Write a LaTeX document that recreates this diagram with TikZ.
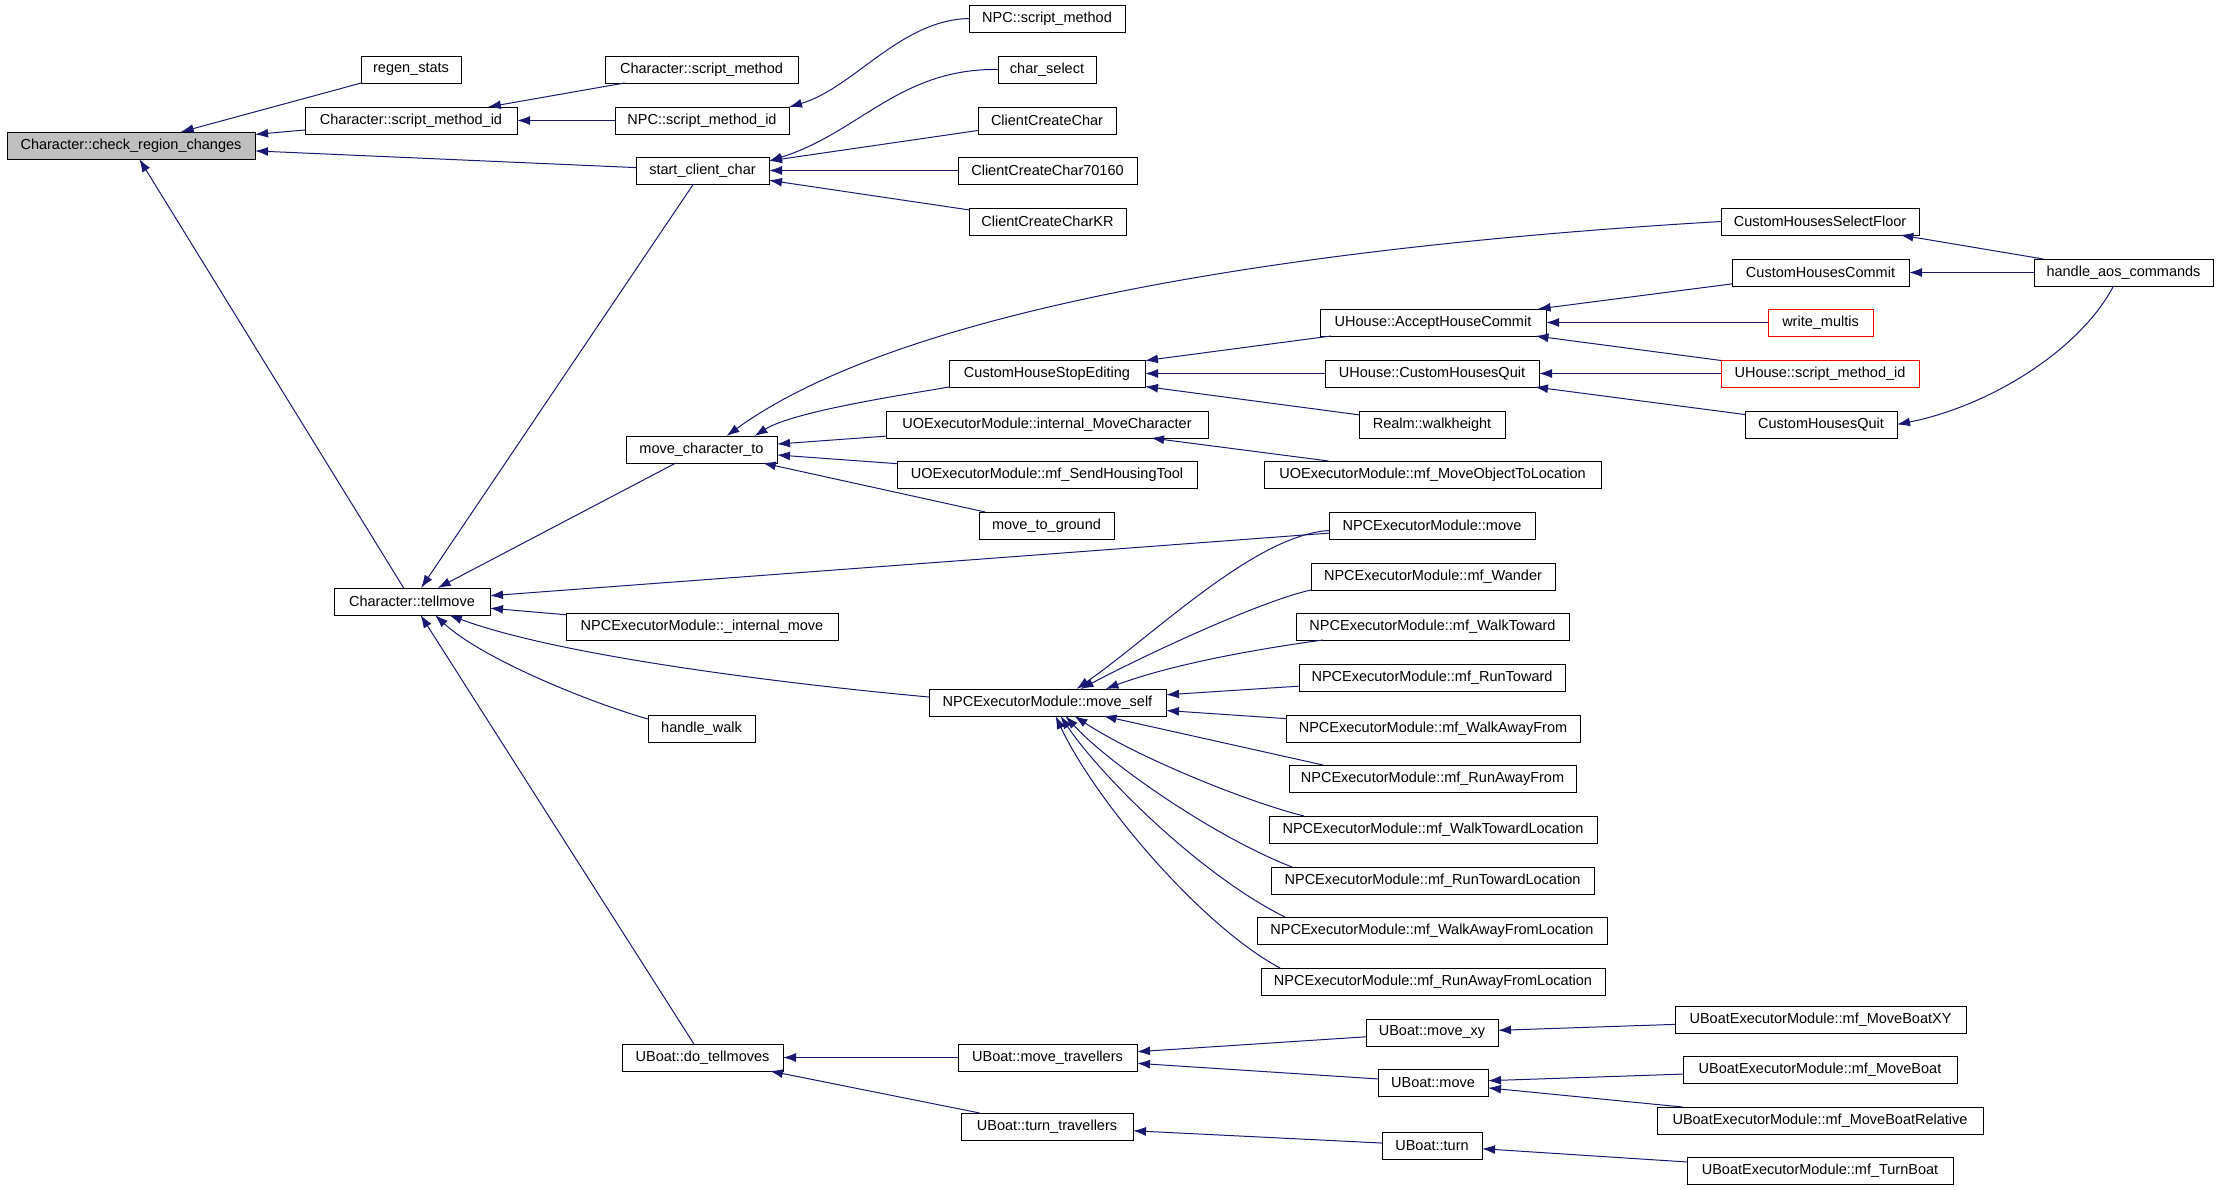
\documentclass[tikz,border=0pt]{standalone}
\usepackage{fontspec}
\setmainfont{Liberation Sans}
\usetikzlibrary{arrows.meta,calc}
\definecolor{navyline}{HTML}{191970}
\definecolor{rootgray}{HTML}{BFBFBF}
\begin{document}
\begin{tikzpicture}[x=1pt,y=-1pt,
  fn/.style={draw=black, line width=1pt, fill=white, anchor=north west, minimum height=27pt, inner sep=0pt, outer sep=0pt, font=\fontsize{14.5}{17}\selectfont},
  rootfn/.style={fn, fill=rootgray},
  redfn/.style={fn, draw=red},
  call/.style={draw=navyline, line width=1pt, -{Latex[length=13pt,width=9pt]}}]
\useasboundingbox[fill=white] (0,0) rectangle (2219,1189);

\node[rootfn, minimum width=248pt] (root) at (7,132) {Character::check\_region\_changes};
\node[fn, minimum width=100pt] (regen) at (361,56) {regen\_stats};
\node[fn, minimum width=193pt] (csm) at (605,56) {Character::script\_method};
\node[fn, minimum width=212pt] (csmid) at (305,107) {Character::script\_method\_id};
\node[fn, minimum width=174pt] (npcsmid) at (615,107) {NPC::script\_method\_id};
\node[fn, minimum width=133pt] (scc) at (636,157) {start\_client\_char};
\node[fn, minimum width=156pt] (npcsm) at (969,5) {NPC::script\_method};
\node[fn, minimum width=98pt] (charsel) at (998,56) {char\_select};
\node[fn, minimum width=138pt] (ccc) at (978,107) {ClientCreateChar};
\node[fn, minimum width=179pt] (ccc7) at (958,157) {ClientCreateChar70160};
\node[fn, minimum width=157pt] (ccckr) at (969,208) {ClientCreateCharKR};
\node[fn, minimum width=198pt] (chsf) at (1721,208) {CustomHousesSelectFloor};
\node[fn, minimum width=177pt] (chc) at (1732,259) {CustomHousesCommit};
\node[fn, minimum width=179pt] (hac) at (2034,259) {handle\_aos\_commands};
\node[fn, minimum width=226pt] (ahc) at (1320,309) {UHouse::AcceptHouseCommit};
\node[redfn, minimum width=105pt] (wm) at (1768,309) {write\_multis};
\node[fn, minimum width=196pt] (chse) at (949,360) {CustomHouseStopEditing};
\node[fn, minimum width=214pt] (uchq) at (1325,360) {UHouse::CustomHousesQuit};
\node[redfn, minimum width=198pt] (usmid) at (1721,360) {UHouse::script\_method\_id};
\node[fn, minimum width=151pt] (mct) at (626,436) {move\_character\_to};
\node[fn, minimum width=322pt] (imc) at (886,411) {UOExecutorModule::internal\_MoveCharacter};
\node[fn, minimum width=146pt] (rw) at (1359,411) {Realm::walkheight};
\node[fn, minimum width=152pt] (chq) at (1745,411) {CustomHousesQuit};
\node[fn, minimum width=300pt] (sht) at (897,461) {UOExecutorModule::mf\_SendHousingTool};
\node[fn, minimum width=337pt] (mota) at (1264,461) {UOExecutorModule::mf\_MoveObjectToLocation};
\node[fn, minimum width=135pt] (mtg) at (979,512) {move\_to\_ground};
\node[fn, minimum width=206pt] (npcmove) at (1329,512) {NPCExecutorModule::move};
\node[fn, minimum width=244pt] (wander) at (1311,563) {NPCExecutorModule::mf\_Wander};
\node[fn, minimum width=156pt] (tell) at (334,588) {Character::tellmove};
\node[fn, minimum width=272pt] (im) at (566,613) {NPCExecutorModule::\_internal\_move};
\node[fn, minimum width=273pt] (walkt) at (1296,613) {NPCExecutorModule::mf\_WalkToward};
\node[fn, minimum width=266pt] (runt) at (1299,664) {NPCExecutorModule::mf\_RunToward};
\node[fn, minimum width=237pt] (ms) at (929,689) {NPCExecutorModule::move\_self};
\node[fn, minimum width=107pt] (hw) at (648,715) {handle\_walk};
\node[fn, minimum width=294pt] (walkaf) at (1286,715) {NPCExecutorModule::mf\_WalkAwayFrom};
\node[fn, minimum width=287pt] (runaf) at (1289,765) {NPCExecutorModule::mf\_RunAwayFrom};
\node[fn, minimum width=328pt] (wtl) at (1269,816) {NPCExecutorModule::mf\_WalkTowardLocation};
\node[fn, minimum width=323pt] (rtl) at (1271,867) {NPCExecutorModule::mf\_RunTowardLocation};
\node[fn, minimum width=350pt] (wafl) at (1257,917) {NPCExecutorModule::mf\_WalkAwayFromLocation};
\node[fn, minimum width=344pt] (rafl) at (1261,968) {NPCExecutorModule::mf\_RunAwayFromLocation};
\node[fn, minimum width=291pt] (mbxy) at (1675,1006) {UBoatExecutorModule::mf\_MoveBoatXY};
\node[fn, minimum width=132pt] (mxy) at (1366,1019) {UBoat::move\_xy};
\node[fn, minimum width=161pt] (dtm) at (622,1044) {UBoat::do\_tellmoves};
\node[fn, minimum width=179pt] (mt) at (958,1044) {UBoat::move\_travellers};
\node[fn, minimum width=274pt] (mb) at (1683,1056) {UBoatExecutorModule::mf\_MoveBoat};
\node[fn, minimum width=110pt] (um) at (1378,1069) {UBoat::move};
\node[fn, minimum width=326pt] (mbr) at (1657,1107) {UBoatExecutorModule::mf\_MoveBoatRelative};
\node[fn, minimum width=172pt] (tt) at (961,1113) {UBoat::turn\_travellers};
\node[fn, minimum width=100pt] (ut) at (1382,1132) {UBoat::turn};
\node[fn, minimum width=266pt] (tb) at (1687,1157) {UBoatExecutorModule::mf\_TurnBoat};

% callers of check_region_changes
\draw[call] (regen) -- (root);
\draw[call] (csmid) -- (root);
\draw[call] (scc) -- (root);
\draw[call] (tell) -- (root);
\draw[call] (csm) -- (csmid);
\draw[call] (npcsmid) -- (csmid);
\draw[call] (npcsm.west) .. controls (900,20) and (854,88) .. (npcsmid.north east);
\draw[call] (charsel.west) .. controls (900,68) and (859,133) .. ($(scc.north east)+(0,4)$);
\draw[call] (ccc) -- (scc);
\draw[call] (ccc7) -- (scc);
\draw[call] (ccckr) -- (scc);
% callers of tellmove
\draw[call] (scc) -- (tell);
\draw[call] (mct) -- (tell);
\draw[call] (npcmove) -- (tell);
\draw[call] (im) -- (tell);
\draw[call] ($(ms.north west)+(0,8)$) .. controls (829,688) and (570,660) .. ($(tell.south)+(37,0)$);
\draw[call] ($(hw.north west)+(0,4)$) .. controls (588,702) and (481,658) .. ($(tell.south)+(23,0)$);
\draw[call] (dtm) -- (tell);
% callers of move_character_to
\draw[call] (chsf.west) .. controls (1287,247) and (900,310) .. ($(mct.north)+(25,0)$);
\draw[call] (chse.south west) .. controls (909,394) and (794,411) .. ($(mct.north)+(53,0)$);
\draw[call] (imc) -- (mct);
\draw[call] (sht) -- (mct);
\draw[call] (mtg) -- (mct);
% house editing
\draw[call] (ahc) -- (chse);
\draw[call] (uchq) -- (chse);
\draw[call] (rw) -- (chse);
\draw[call] (mota) -- (imc);
\draw[call] (chc) -- (ahc);
\draw[call] (wm) -- (ahc);
\draw[call] (usmid) -- (ahc);
\draw[call] (usmid) -- (uchq);
\draw[call] (chq) -- (uchq);
\draw[call] (hac) -- (chsf);
\draw[call] (hac) -- (chc);
\draw[call] ($(hac.south)+(-10,0)$) .. controls (2080,350) and (1990,406) .. (chq.east);
% callers of move_self
\draw[call] ($(npcmove.west)+(0,5)$) .. controls (1255,535) and (1155,634) .. ($(ms.north)+(29,0)$);
\draw[call] (wander.south west) .. controls (1265,600) and (1159,648) .. ($(ms.north)+(33,0)$);
\draw[call] ($(walkt.south west)+(27,0)$) .. controls (1250,650) and (1170,665) .. ($(ms.north)+(58,0)$);
\draw[call] (runt) -- (ms);
\draw[call] (walkaf) -- (ms);
\draw[call] ($(runaf.north west)+(34,0)$) -- ($(ms.south)+(56,0)$);
\draw[call] ($(wtl.north west)+(35,0)$) .. controls (1244,801) and (1135,756) .. ($(ms.south)+(27,0)$);
\draw[call] ($(rtl.north west)+(21,0)$) .. controls (1210,835) and (1105,760) .. ($(ms.south)+(18,0)$);
\draw[call] ($(wafl.north west)+(28,0)$) .. controls (1200,875) and (1100,775) .. ($(ms.south)+(13,0)$);
\draw[call] ($(rafl.north west)+(19,0)$) .. controls (1200,925) and (1095,800) .. ($(ms.south)+(8,0)$);
% boats
\draw[call] (mt) -- (dtm);
\draw[call] (tt) -- (dtm);
\draw[call] (mxy) -- (mt);
\draw[call] (um) -- (mt);
\draw[call] (ut) -- (tt);
\draw[call] (mbxy) -- (mxy);
\draw[call] (mb) -- (um);
\draw[call] (mbr) -- (um);
\draw[call] (tb) -- (ut);
\end{tikzpicture}
\end{document}
